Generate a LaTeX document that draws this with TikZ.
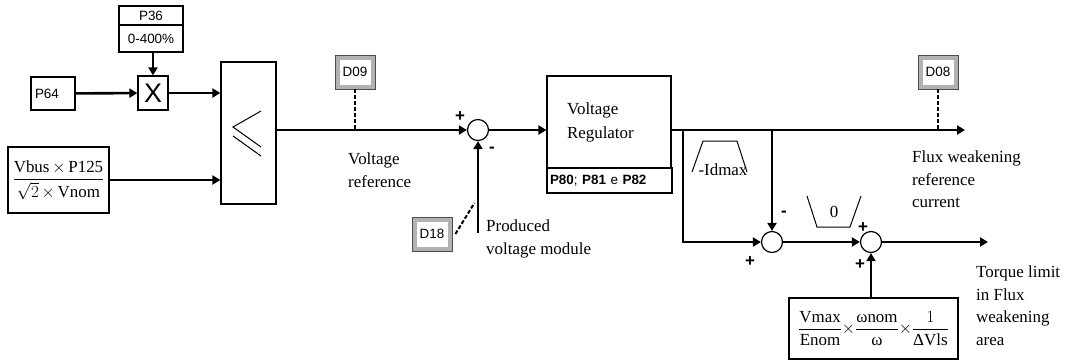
\RequirePackage{fix-cm}
\documentclass[tikz,border=0pt]{standalone}
\usepackage{amsmath}
\usepackage{fontspec}
\setmainfont{Liberation Serif}
\setsansfont{Liberation Sans}
\usetikzlibrary{positioning,arrows.meta}

\begin{document}
\begin{tikzpicture}[x=1bp,y=-1bp,
  blk/.style={draw, line width=1.2bp, inner sep=2bp, font=\sffamily\fontsize{13.5}{15}\selectfont},
  mbox/.style={draw, line width=1.2bp, inner sep=3bp, font=\fontsize{17}{20}\selectfont},
  dbox/.style={draw=black!70, line width=0.8bp, fill=white, minimum width=40bp, minimum height=34bp,
    font=\sffamily\fontsize{13.5}{15}\selectfont,
    path picture={\draw[gray!60, line width=9bp] (path picture bounding box.south west) rectangle (path picture bounding box.north east);}},
  sum/.style={draw, circle, line width=1.2bp, minimum size=21bp, inner sep=0pt},
  sig/.style={-{Triangle[length=8bp,width=9bp]}, line width=2.6bp},
  probe/.style={line width=2bp, dash pattern=on 4bp off 2bp},
  lbl/.style={align=left, anchor=north west, inner sep=0pt, font=\fontsize{17}{22.5}\selectfont},
  sgn/.style={font=\sffamily\bfseries\fontsize{17}{17}\selectfont, inner sep=0pt}
]
\useasboundingbox (0,0) rectangle (1071,360);

\node[blk, minimum width=64bp, minimum height=19bp] (p36) at (151,15.5) {P36};
\node[blk, minimum width=64bp, minimum height=27bp] (p36r) at (151,38.5) {0-400\%};
\node[blk, minimum width=30bp, minimum height=34bp, font=\sffamily\fontsize{27}{27}\selectfont] (mult) at (153,93) {X};
\node[blk, minimum width=44bp, minimum height=33bp, text width=36bp, align=left] (p64) at (53,93.5) {P64};
\node[mbox, minimum width=101bp, minimum height=66bp] (vbus) at (58.5,180)
  {$\dfrac{\mathrm{Vbus}\,{\times}\,\mathrm{P125}}{\sqrt{2}\,{\times}\,\mathrm{Vnom}}$};
\node[draw, line width=1.2bp, minimum width=55bp, minimum height=142bp] (sel) at (248.5,133) {};
\draw[line width=1bp] (261,111) -- (233,127) -- (261,147) (233,136) -- (261,156);

\foreach \n/\p in {D09/{355,72}, D08/{938,72}, D18/{432,234}}
  \node[dbox] (\n) at (\p) {\n};

\node[sum] (s1) at (478,130) {};
\node[sum] (s2) at (772,242) {};
\node[sum] (s3) at (871,242) {};
\node[mbox, minimum width=124bp, minimum height=92bp, text width=84bp, align=left, font=\fontsize{17}{24}\selectfont] (vreg) at (609,122) {Voltage\\Regulator};
\node[blk, minimum width=125bp, minimum height=25bp, text width=119bp, align=left] (vpar) at (609.5,180.5)
  {\textbf{P80}; \textbf{P81} e \textbf{P82}};
\node[mbox, minimum width=169bp, minimum height=61bp] (lim) at (873.5,328.5)
  {$\dfrac{\mathrm{Vmax}}{\mathrm{Enom}}{\times}\dfrac{\textrm{ωnom}}{\textrm{ω}}{\times}\dfrac{1}{\textrm{ΔVls}}$};

\coordinate (pvm) at (478,233);
\coordinate (b1) at (683,130);
\coordinate (b2) at (772,130);
\coordinate (fwout) at (965,130);
\coordinate (tqout) at (988,242);

\draw[sig] (mult.north |- p36r.south) -- (mult.north);
\draw[sig] (p64) -- (mult);
\draw[sig] (mult) -- (sel.west |- mult);
\draw[sig] (vbus) -- (sel.west |- vbus);
\draw[sig] (sel.east |- s1) -- (s1);
\draw[probe] (D09) -- (D09 |- s1);
\draw[sig] (pvm) -- (s1);
\draw[probe] ([xshift=3bp]D18.east) -- ++(19,-31);
\draw[sig] (s1) -- (vreg.west |- s1);
\draw[sig, line width=2.2bp] (vreg.east |- s1) -- (fwout);
\draw[probe] (D08) -- (D08 |- fwout);
\draw[sig, line width=2.2bp] (b1) |- (s2);
\draw[sig, line width=2.2bp] (b2) -- (s2);
\draw[sig] (s2) -- (s3);
\draw[sig] (s3) -- (tqout);
\draw[sig] (s3 |- lim.north) -- (s3);

\draw[line width=1bp] (692,172) -- (703,141) -- (737,141) -- (747,172);
\draw[line width=1bp] (807,196) -- (817,227) -- (850,227) -- (861,196);
\node[font=\fontsize{17}{20}\selectfont, inner sep=0pt] (idm) at (723,170) {-Idmax};
\node[font=\fontsize{17}{20}\selectfont, inner sep=0pt] (zer) at (834,212) {0};

\node[lbl] (vref) at (348,153) {Voltage\\reference};
\node[lbl] (pvmod) at (486,220) {Produced\\voltage module};
\node[lbl] (fwref) at (912,151) {Flux weakening\\reference\\current};
\node[lbl] (tqlim) at (976,266) {Torque limit\\in Flux\\weakening\\area};

\foreach \s/\p [count=\i] in {+/{460,117}, -/{492,150}, -/{784,214}, +/{750,262}, +/{863,228}, +/{860,265}}
  \node[sgn] (sg\i) at (\p) {\s};
\end{tikzpicture}
\end{document}
